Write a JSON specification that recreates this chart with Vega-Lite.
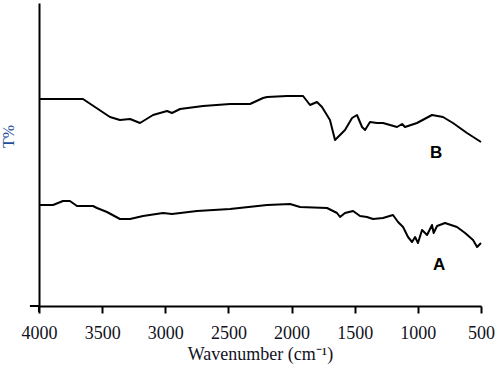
{
  "$schema": "https://vega.github.io/schema/vega-lite/v6.json",
  "width": 442,
  "height": 303,
  "autosize": {"type": "none"},
  "padding": {"left": 39, "top": 3, "right": 17, "bottom": 60},
  "background": "white",
  "config": {"view": {"stroke": null}},
  "datasets": {
    "spectra": [
      {"s": "B", "w": 4000, "t": 207}, {"s": "B", "w": 3652, "t": 207}, {"s": "B", "w": 3438, "t": 189},
      {"s": "B", "w": 3359, "t": 186}, {"s": "B", "w": 3279, "t": 187}, {"s": "B", "w": 3200, "t": 183},
      {"s": "B", "w": 3097, "t": 191}, {"s": "B", "w": 2986, "t": 195}, {"s": "B", "w": 2947, "t": 193},
      {"s": "B", "w": 2883, "t": 197}, {"s": "B", "w": 2701, "t": 200}, {"s": "B", "w": 2487, "t": 202},
      {"s": "B", "w": 2329, "t": 202}, {"s": "B", "w": 2226, "t": 208}, {"s": "B", "w": 2194, "t": 209},
      {"s": "B", "w": 2036, "t": 210}, {"s": "B", "w": 1909, "t": 210}, {"s": "B", "w": 1854, "t": 201},
      {"s": "B", "w": 1799, "t": 204}, {"s": "B", "w": 1759, "t": 199}, {"s": "B", "w": 1696, "t": 186},
      {"s": "B", "w": 1656, "t": 166}, {"s": "B", "w": 1632, "t": 169}, {"s": "B", "w": 1577, "t": 176},
      {"s": "B", "w": 1521, "t": 188}, {"s": "B", "w": 1482, "t": 191}, {"s": "B", "w": 1442, "t": 179},
      {"s": "B", "w": 1418, "t": 176}, {"s": "B", "w": 1379, "t": 184}, {"s": "B", "w": 1323, "t": 183},
      {"s": "B", "w": 1276, "t": 183}, {"s": "B", "w": 1165, "t": 179}, {"s": "B", "w": 1125, "t": 182},
      {"s": "B", "w": 1102, "t": 179}, {"s": "B", "w": 1007, "t": 183}, {"s": "B", "w": 888, "t": 191},
      {"s": "B", "w": 801, "t": 189}, {"s": "B", "w": 722, "t": 183}, {"s": "B", "w": 611, "t": 173},
      {"s": "B", "w": 500, "t": 164},
      {"s": "A", "w": 4000, "t": 101}, {"s": "A", "w": 3889, "t": 101}, {"s": "A", "w": 3810, "t": 105},
      {"s": "A", "w": 3755, "t": 105}, {"s": "A", "w": 3699, "t": 100}, {"s": "A", "w": 3572, "t": 100},
      {"s": "A", "w": 3541, "t": 98}, {"s": "A", "w": 3462, "t": 94}, {"s": "A", "w": 3359, "t": 87},
      {"s": "A", "w": 3279, "t": 87}, {"s": "A", "w": 3176, "t": 90}, {"s": "A", "w": 3018, "t": 93},
      {"s": "A", "w": 2947, "t": 92}, {"s": "A", "w": 2749, "t": 95}, {"s": "A", "w": 2487, "t": 97},
      {"s": "A", "w": 2194, "t": 101}, {"s": "A", "w": 2012, "t": 102}, {"s": "A", "w": 1933, "t": 99},
      {"s": "A", "w": 1719, "t": 98}, {"s": "A", "w": 1640, "t": 93}, {"s": "A", "w": 1616, "t": 89},
      {"s": "A", "w": 1577, "t": 93}, {"s": "A", "w": 1513, "t": 95}, {"s": "A", "w": 1458, "t": 90},
      {"s": "A", "w": 1403, "t": 89}, {"s": "A", "w": 1355, "t": 87}, {"s": "A", "w": 1276, "t": 88},
      {"s": "A", "w": 1197, "t": 91}, {"s": "A", "w": 1157, "t": 84}, {"s": "A", "w": 1117, "t": 79},
      {"s": "A", "w": 1078, "t": 69}, {"s": "A", "w": 1046, "t": 64}, {"s": "A", "w": 1022, "t": 69},
      {"s": "A", "w": 999, "t": 63}, {"s": "A", "w": 967, "t": 76}, {"s": "A", "w": 927, "t": 71},
      {"s": "A", "w": 888, "t": 81}, {"s": "A", "w": 875, "t": 73}, {"s": "A", "w": 848, "t": 80},
      {"s": "A", "w": 785, "t": 83}, {"s": "A", "w": 690, "t": 79}, {"s": "A", "w": 626, "t": 73},
      {"s": "A", "w": 563, "t": 66}, {"s": "A", "w": 531, "t": 59}, {"s": "A", "w": 500, "t": 63}
    ],
    "labels": [
      {"s": "B", "w": 856, "t": 153},
      {"s": "A", "w": 832, "t": 41}
    ],
    "axisext": [
      {"x": 4072, "x2": 4000, "y": 0, "y2": 0},
      {"x": 4000, "x2": 4000, "y": 0, "y2": -6}
    ]
  },
  "layer": [
    {
      "data": {"name": "spectra"},
      "mark": {"type": "line", "color": "black", "strokeWidth": 2, "strokeJoin": "round"},
      "encoding": {
        "x": {
          "field": "w", "type": "quantitative",
          "scale": {"domain": [500, 4000], "reverse": true, "nice": false, "zero": false},
          "axis": {
            "values": [4000, 3750, 3500, 3250, 3000, 2750, 2500, 2250, 2000, 1750, 1500, 1250, 1000, 750, 500],
            "labelExpr": "datum.value % 500 === 0 ? datum.value : ''",
            "grid": false,
            "domainColor": "black", "domainWidth": 2,
            "tickColor": "black", "tickWidth": 2, "tickSize": 7,
            "labelFont": "Liberation Serif", "labelFontSize": 18, "labelColor": "#111122",
            "labelPadding": 11, "labelFlush": false, "labelOverlap": false,
            "title": "Wavenumber (cm\u207B\u00B9)",
            "titleFont": "Liberation Serif", "titleFontSize": 18, "titleFontWeight": "normal",
            "titleColor": "#111122", "titlePadding": 3
          }
        },
        "y": {
          "field": "t", "type": "quantitative",
          "scale": {"domain": [0, 303], "nice": false, "zero": false},
          "axis": {
            "ticks": false, "labels": false, "grid": false,
            "domainColor": "black", "domainWidth": 2,
            "title": "T%",
            "titleFont": "Liberation Serif", "titleFontSize": 16, "titleFontWeight": "normal",
            "titleColor": "#1f4e9a", "titlePadding": 23, "titleY": 133
          }
        },
        "detail": {"field": "s"}
      }
    },
    {
      "data": {"name": "labels"},
      "mark": {"type": "text", "font": "Liberation Sans", "fontSize": 17, "fontWeight": "bold", "color": "black", "align": "center", "baseline": "middle"},
      "encoding": {
        "x": {"field": "w", "type": "quantitative"},
        "y": {"field": "t", "type": "quantitative"},
        "text": {"field": "s"}
      }
    },
    {
      "data": {"name": "axisext"},
      "mark": {"type": "rule", "color": "black", "strokeWidth": 2, "clip": false},
      "encoding": {
        "x": {"field": "x", "type": "quantitative"},
        "x2": {"field": "x2"},
        "y": {"field": "y", "type": "quantitative"},
        "y2": {"field": "y2"}
      }
    }
  ]
}
